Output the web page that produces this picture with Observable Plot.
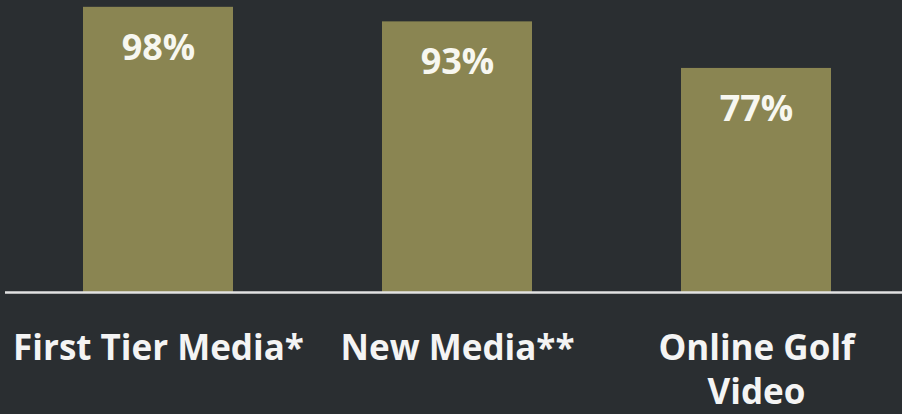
<!DOCTYPE html>
<html><head><meta charset="utf-8">
<script src="https://cdn.jsdelivr.net/npm/d3@7"></script>
<script src="https://cdn.jsdelivr.net/npm/@observablehq/plot@0.6"></script>
<style>
html,body{margin:0;padding:0;background:#2a2e31;}
#chart{width:902px;height:414px;overflow:hidden;}
</style></head>
<body><div id="chart"></div>
<script>
const categories = ["First Tier Media*", "New Media**", "Online Golf\nVideo"];
const values = [98, 93, 77];
const valueLabels = ["98%", "93%", "77%"];
const data = categories.map((c, i) => ({cat: c, value: values[i], label: valueLabels[i]}));

const chart = Plot.plot({
  width: 902,
  height: 414,
  marginTop: 1,
  marginBottom: 122,
  marginLeft: 5,
  marginRight: 0,
  style: {background: "#2a2e31", fontFamily: "Open Sans", color: "#f4f4ef"},
  x: {domain: categories, range: [83, 830.5], paddingInner: 0.5, paddingOuter: 0, axis: null},
  y: {domain: [0, 100], axis: null},
  marks: [
    Plot.barY(data, {x: "cat", y: "value", fill: "#8a8552"}),
    Plot.ruleY([0], {stroke: "#e2e2e2", strokeWidth: 2.5}),
    Plot.text(data, {x: "cat", y: "value", text: "label", lineAnchor: "top", dy: 27, fill: "#f7f7f0", fontSize: 36, fontWeight: "bold"}),
    Plot.text(data, {x: "cat", y: () => 0, text: "cat", lineAnchor: "top", dy: 36, fill: "#f4f4f4", fontSize: 35, fontWeight: "bold", lineHeight: 1.26})
  ]
});
document.getElementById("chart").appendChild(chart);
</script></body></html>
